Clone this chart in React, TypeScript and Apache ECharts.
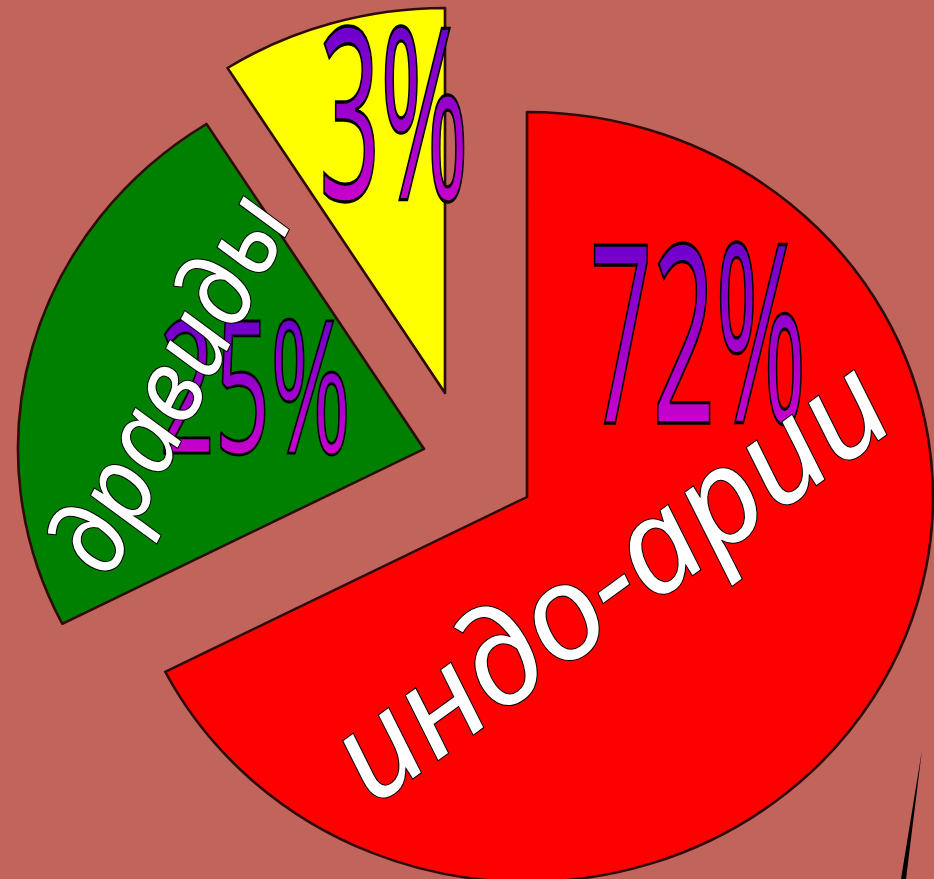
import React, { useEffect, useRef } from 'react';
import * as echarts from 'echarts';

// ---- data ----
const categories = ['индо-арии', 'дравиды', 'прочие'];
const sliceValues = [67.5, 23.5, 9];           // drawn slice sizes
const percentLabels = ['72%', '25%', '3%'];    // printed labels
const nameLabels = ['индо-арии', 'дравиды'];
const sliceColors = ['#FF0000', '#008000', '#FFFF00'];

// ---- layout ----
const W = 934;
const H = 879;
const S = 406 / 385; // horizontal stretch of the (elliptic) pie
const CW = W / S;
const BG = '#C1645C';
const R = 385;
// vertex of each exploded slice, in screen px
const vertices: number[][] = [[527, 497], [424, 449], [445, 393]];

const cx = (x: number) => x / S;
const rot = (deg: number) => Math.atan(Math.tan((deg * Math.PI) / 180) * S);

const PCT_FONT = "'Noto Sans', 'Open Sans', sans-serif";
const NAME_FONT = "'Noto Sans', 'Open Sans', sans-serif";
const GRAD_TOP = [0x66, 0x00, 0xcc];
const GRAD_BOTTOM = [0xcc, 0x00, 0xcc];

// screen centre, font size (chart units), vertical stretch
const pctPlace = [
  { x: 698, y: 326, fs: 104, sy: 2.4 },
  { x: 255, y: 382, fs: 92, sy: 2.0 },
  { x: 394, y: 106, fs: 101, sy: 2.38 },
];
const namePlace = [
  { x: 605, y: 575, fs: 130, deg: 36 },
  { x: 166, y: 382, fs: 99, deg: 63 },
];

const mix = (t: number) => {
  const c = GRAD_TOP.map((a, k) => Math.round(a + (GRAD_BOTTOM[k] - a) * t));
  return `rgb(${c[0]},${c[1]},${c[2]})`;
};

export default function App() {
  const ref = useRef<HTMLDivElement>(null);
  useEffect(() => {
    if (!ref.current) return;
    const chart = echarts.init(ref.current, undefined, { renderer: 'svg' });

    const series = vertices.map((v, i) => ({
      type: 'pie' as const,
      center: [cx(v[0]), v[1]],
      radius: R,
      startAngle: 90,
      clockwise: true,
      silent: true,
      selectedMode: false,
      label: { show: false },
      labelLine: { show: false },
      emphasis: { disabled: true },
      z: 2,
      data: sliceValues.map((val, j) => ({
        value: val,
        name: categories[j],
        itemStyle:
          j === i
            ? { color: sliceColors[j], borderColor: '#2e0c0c', borderWidth: 2.5 }
            : { color: 'rgba(0,0,0,0)', borderWidth: 0 },
      })),
    }));

    const nameTexts = namePlace.map((p, i) => ({
      type: 'text',
      x: cx(p.x),
      y: p.y,
      rotation: rot(p.deg),
      z: 20,
      silent: true,
      style: {
        text: nameLabels[i],
        fontSize: p.fs,
        fontFamily: NAME_FONT,
        fontStyle: 'italic',
        fill: '#FFFFFF',
        stroke: '#000',
        lineWidth: 2,
        align: 'center',
        verticalAlign: 'middle',
      },
    }));

    // outline copies of the percent labels
    const pctOutline = percentLabels.map((t, i) => ({
      type: 'text',
      x: cx(pctPlace[i].x),
      y: pctPlace[i].y,
      scaleY: pctPlace[i].sy,
      z: 12,
      silent: true,
      style: {
        text: t,
        fontSize: pctPlace[i].fs,
        fontFamily: PCT_FONT,
        fill: 'none',
        stroke: '#000',
        lineWidth: 1.4,
        align: 'center',
        verticalAlign: 'middle',
      },
    }));

    chart.setOption({
      animation: false,
      backgroundColor: BG,
      series,
      graphic: [
        ...pctOutline,
        ...nameTexts,
        {
          type: 'polygon',
          z: 5,
          silent: true,
          shape: { points: [[cx(922), 750], [cx(906), 879], [cx(901), 879]] },
          style: { fill: '#000' },
        },
      ],
    });

    // gradient fill of the percent labels, built from clipped colour bands
    const zr = chart.getZr();
    const G: any = echarts.graphic;
    const N = 14;
    percentLabels.forEach((t, i) => {
      const p = pctPlace[i];
      const g = new G.Group({ x: cx(p.x), y: p.y, scaleY: p.sy });
      const top = -0.4 * p.fs;
      const bot = 0.42 * p.fs;
      const step = (bot - top) / N;
      for (let k = 0; k < N; k++) {
        const txt = new G.Text({
          z: 10,
          silent: true,
          style: {
            text: t,
            fontSize: p.fs,
            fontFamily: PCT_FONT,
            fill: mix((k + 0.5) / N),
            align: 'center',
            verticalAlign: 'middle',
          },
        });
        const y0 = k === 0 ? -p.fs * 2 : top + k * step;
        const h = k === N - 1 ? p.fs * 4 : (k === 0 ? p.fs * 2 + top + step : step) + 0.6;
        txt.setClipPath(new G.Rect({ shape: { x: -p.fs * 3, y: y0, width: p.fs * 6, height: h } }));
        g.add(txt);
      }
      zr.add(g);
    });

    return () => chart.dispose();
  }, []);

  return (
    <div style={{ position: 'fixed', left: 0, top: 0, width: W, height: H, overflow: 'hidden', background: BG }}>
      <div
        ref={ref}
        style={{ width: CW, height: H, transform: `scaleX(${S})`, transformOrigin: '0 0' }}
      />
    </div>
  );
}
